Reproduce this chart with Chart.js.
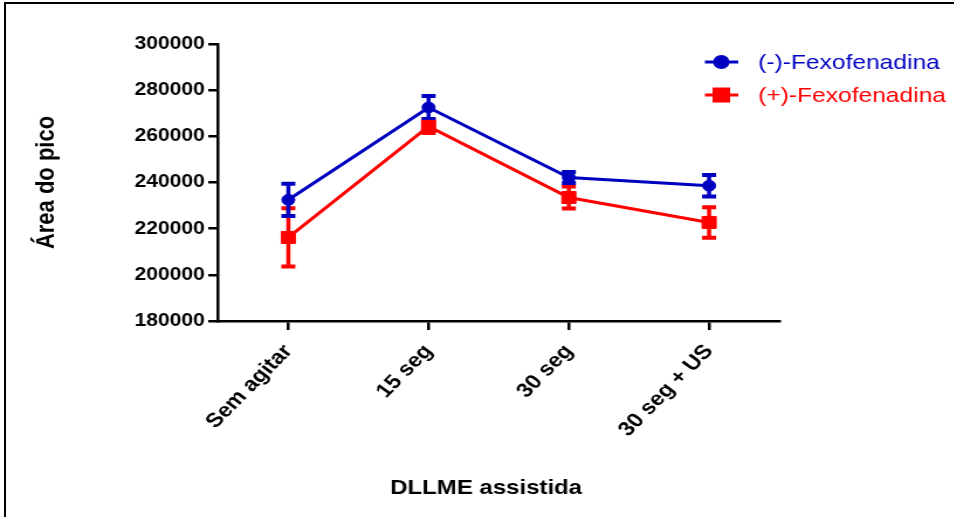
<!DOCTYPE html>
<html>
<head>
<meta charset="utf-8">
<title>DLLME assistida</title>
<script src="https://cdn.jsdelivr.net/npm/chart.js"></script>
<style>
	body { margin: 0; background: #fff; overflow: hidden; }
	#frame { position: absolute; left: 4px; top: 2px; width: 948px; height: 530px; border-top: 2px solid #000; border-left: 2px solid #000; }
	/* the original picture is a bit wider than tall, so the chart is drawn narrow and stretched */
	#wrap { position: absolute; left: 0; top: 0; width: 824px; height: 517px; transform: scaleX(1.17); transform-origin: 0 0; }
</style>
</head>
<body>
<div id="frame"></div>
<div id="wrap"><canvas id="chart"></canvas></div>
<script>
const categories = ['Sem agitar', '15 seg', '30 seg', '30 seg + US'];
const minusMeans = [232500, 272500, 242200, 238600];
const minusErr = [7000, 5000, 2400, 4700];
const plusMeans = [216200, 264300, 233500, 222700];
const plusErr = [12600, 2900, 4800, 6600];
const yMin = 180000, yMax = 300000, yStep = 20000;

const blue = '#0000c0', red = '#ff0000';
const errors = [minusErr, plusErr];

Chart.defaults.font.family = '"Liberation Sans", Arial, sans-serif';
Chart.defaults.color = '#000';

// SEM bars, drawn before the lines so markers sit on top
const errorBars = {
	id: 'errorBars',
	beforeDatasetsDraw(chart) {
		const ctx = chart.ctx, y = chart.scales.y;
		[1, 0].forEach(i => {
			const ds = chart.data.datasets[i], meta = chart.getDatasetMeta(i);
			ctx.save();
			ctx.strokeStyle = ds.borderColor;
			meta.data.forEach((pt, j) => {
				const top = y.getPixelForValue(ds.data[j] + errors[i][j]);
				const bot = y.getPixelForValue(ds.data[j] - errors[i][j]);
				ctx.lineWidth = 3.5;
				ctx.beginPath(); ctx.moveTo(pt.x, top); ctx.lineTo(pt.x, bot); ctx.stroke();
				ctx.lineWidth = 4;
				ctx.beginPath();
				ctx.moveTo(pt.x - 6, top); ctx.lineTo(pt.x + 6, top);
				ctx.moveTo(pt.x - 6, bot); ctx.lineTo(pt.x + 6, bot);
				ctx.stroke();
			});
			ctx.restore();
		});
	}
};

const legendAndTitle = {
	id: 'legendAndTitle',
	afterDraw(chart) {
		const ctx = chart.ctx;
		ctx.save();
		chart.data.datasets.forEach((ds, i) => {
			const rowY = 62 + i * 33;
			ctx.strokeStyle = ds.borderColor; ctx.fillStyle = ds.borderColor; ctx.lineWidth = 3;
			ctx.beginPath(); ctx.moveTo(602.5, rowY); ctx.lineTo(631, rowY); ctx.stroke();
			Chart.helpers.drawPoint(ctx, { pointStyle: ds.pointStyle, radius: ds.pointRadius, borderWidth: 1 }, 616.5, rowY);
			ctx.font = '21px "Liberation Sans", Arial, sans-serif';
			ctx.textAlign = 'left'; ctx.textBaseline = 'middle';
			ctx.fillText(ds.label, 648, rowY + 1);
		});
		ctx.fillStyle = '#000';
		ctx.font = 'bold 20.5px "Liberation Sans", Arial, sans-serif';
		ctx.textAlign = 'center'; ctx.textBaseline = 'middle';
		ctx.fillText('DLLME assistida', 415.5, 488);
		ctx.restore();
	}
};

new Chart(document.getElementById('chart'), {
	type: 'line',
	data: {
		labels: categories,
		datasets: [
			{ label: '(-)-Fexofenadina', data: minusMeans, borderColor: blue, backgroundColor: blue, borderWidth: 3, pointStyle: 'circle', pointRadius: 5.5, pointBorderWidth: 1 },
			{ label: '(+)-Fexofenadina', data: plusMeans, borderColor: red, backgroundColor: red, borderWidth: 3, pointStyle: 'rect', pointRadius: 8.5, pointBorderWidth: 1 }
		]
	},
	options: {
		responsive: true,
		maintainAspectRatio: false,
		animation: false,
		layout: { padding: { top: 44, right: 158, left: 0, bottom: 0 } },
		plugins: { legend: { display: false }, tooltip: { enabled: false } },
		scales: {
			x: {
				offset: true,
				afterFit: s => { s.height = 196; },
				grid: { drawOnChartArea: false, color: '#000', lineWidth: 2.5, tickLength: 9 },
				border: { color: '#000', width: 2.5 },
				ticks: { autoSkip: false, minRotation: 49.5, maxRotation: 49.5, padding: 10, font: { size: 20, weight: 'bold' } }
			},
			y: {
				min: yMin, max: yMax,
				afterFit: s => { s.width = 186.5; },
				grid: { drawOnChartArea: false, color: '#000', lineWidth: 2.5, tickLength: 8.5 },
				border: { color: '#000', width: 2.5 },
				ticks: { stepSize: yStep, padding: 3, font: { size: 18, weight: 'bold' }, callback: v => String(v) },
				title: { display: true, text: 'Área do pico', font: { size: 22, weight: 'bold' }, padding: { top: 27, bottom: 0 } }
			}
		}
	},
	plugins: [errorBars, legendAndTitle]
});
</script>
</body>
</html>
